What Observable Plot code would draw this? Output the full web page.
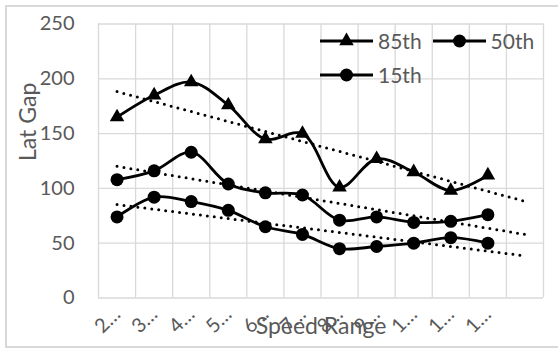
<!DOCTYPE html>
<html>
<head>
<meta charset="utf-8">
<script src="https://cdn.jsdelivr.net/npm/d3@7"></script>
<script src="https://cdn.jsdelivr.net/npm/@observablehq/plot@0.6"></script>
<style>
  html, body { margin: 0; padding: 0; background: #fff; overflow: hidden; }
  #wrap { position: relative; width: 558px; height: 349px; font-family: Lato, sans-serif; }
  #wrap svg.plot { position: absolute; left: 0; top: 0; }
  #border { position: absolute; left: 5px; top: 5px; width: 580px; height: 343px;
            border: 2px solid #d9d9d9; box-sizing: border-box; }
  #legend { position: absolute; left: 320px; top: 29px; display: grid;
            grid-template-columns: auto auto; column-gap: 11px; row-gap: 10px;
            color: #595959; font-size: 21px; line-height: 24px; }
  .item { display: flex; align-items: center; }
  .item svg { margin-right: 5px; }
</style>
</head>
<body>
<div id="wrap">
  <div id="border"></div>
  <div id="chart"></div>
  <div id="legend"></div>
</div>
<script>
// Category tick labels along the speed axis (the last category is empty)
const speedLabels = ["2…", "3…", "4…", "5…", "6…", "7…", "8…", "9…", "1…", "1…", "1…", ""];

// Lateral gap percentiles per speed range
const gap85 = [165, 185, 197, 176, 145, 150, 101, 127, 115, 98, 112];
const gap50 = [108, 116, 133, 104, 96, 94, 71, 74, 69, 70, 76];
const gap15 = [74, 92, 88, 80, 65, 58, 45, 47, 50, 55, 50];

const yTicks = [0, 50, 100, 150, 200, 250];
const seriesNames = ["85th", "50th", "15th"];
const seriesSymbols = ["triangle", "circle", "circle"];

const series = [gap85, gap50, gap15].map((values, k) => ({
  name: seriesNames[k], symbol: seriesSymbols[k], values
}));

const rows = series.flatMap(s =>
  s.values.map((v, i) => ({series: s.name, symbol: s.symbol, idx: i + 1, value: v})));

// Least-squares linear trend of each series, extended across all categories
function trend(s) {
  const xs = s.values.map((_, i) => i + 1);
  const mx = d3.mean(xs), my = d3.mean(s.values);
  const slope = d3.sum(xs, (x, i) => (x - mx) * (s.values[i] - my)) / d3.sum(xs, x => (x - mx) ** 2);
  return [1, speedLabels.length].map(x => ({series: s.name, idx: x, value: my + slope * (x - mx)}));
}
const trendRows = series.flatMap(trend);

const nCat = speedLabels.length;
const grey = "#595959";

const chart = Plot.plot({
  width: 558,
  height: 349,
  marginLeft: 98,
  marginRight: 15,
  marginTop: 23.5,
  marginBottom: 51.5,
  style: {fontFamily: "Lato, sans-serif", background: "transparent", overflow: "visible"},
  x: {type: "linear", domain: [0.5, nCat + 0.5]},
  y: {domain: [0, 250]},
  marks: [
    Plot.gridX(d3.range(0.5, nCat + 1, 1), {stroke: "#d9d9d9", strokeOpacity: 1, strokeWidth: 1.3}),
    Plot.gridY(yTicks, {stroke: "#d9d9d9", strokeOpacity: 1, strokeWidth: 1.3}),
    Plot.axisY(yTicks, {tickSize: 0, tickPadding: 24, fontSize: 20, fill: grey, label: null}),
    Plot.text(["Lat Gap"], {
      frameAnchor: "left", rotate: -90, dx: -70, fontSize: 23, fill: grey, lineAnchor: "middle"
    }),
    Plot.axisX(d3.range(1, nCat + 1), {
      tickSize: 0, tickPadding: 13, tickRotate: -45, fontSize: 20, fill: grey,
      tickFormat: d => speedLabels[d - 1], label: null
    }),
    Plot.text(["Speed Range"], {
      frameAnchor: "bottom", dy: 29, fontSize: 23, fill: grey, lineAnchor: "middle"
    }),
    Plot.line(trendRows, {
      x: "idx", y: "value", z: "series", stroke: "#000", strokeWidth: 3,
      strokeDasharray: "0,7", strokeLinecap: "round"
    }),
    Plot.line(rows, {
      x: "idx", y: "value", z: "series", curve: "catmull-rom", stroke: "#000", strokeWidth: 2.8
    }),
    Plot.dot(rows.filter(d => d.symbol === "circle"), {
      x: "idx", y: "value", symbol: "circle", r: 6.5, fill: "#000"
    }),
    Plot.dot(rows.filter(d => d.symbol === "triangle"), {
      x: "idx", y: "value", symbol: "triangle", r: 5.4, fill: "#000"
    })
  ]
});
chart.classList.add("plot");
document.getElementById("chart").append(chart);

// Legend: line swatch with the series marker, then the series name
const legend = d3.select("#legend");
const triPath = d3.symbol(d3.symbolTriangle, Math.PI * 5.4 * 5.4)();
const circPath = d3.symbol(d3.symbolCircle, Math.PI * 6.5 * 6.5)();
series.forEach(s => {
  const item = legend.append("div").attr("class", "item");
  const sw = item.append("svg").attr("width", 53).attr("height", 20);
  sw.append("line").attr("x1", 0).attr("x2", 53).attr("y1", 10).attr("y2", 10)
    .attr("stroke", "#000").attr("stroke-width", 2.8);
  sw.append("path").attr("d", s.symbol === "triangle" ? triPath : circPath)
    .attr("transform", "translate(26.5,10)").attr("fill", "#000");
  item.append("span").text(s.name);
});
</script>
</body>
</html>
